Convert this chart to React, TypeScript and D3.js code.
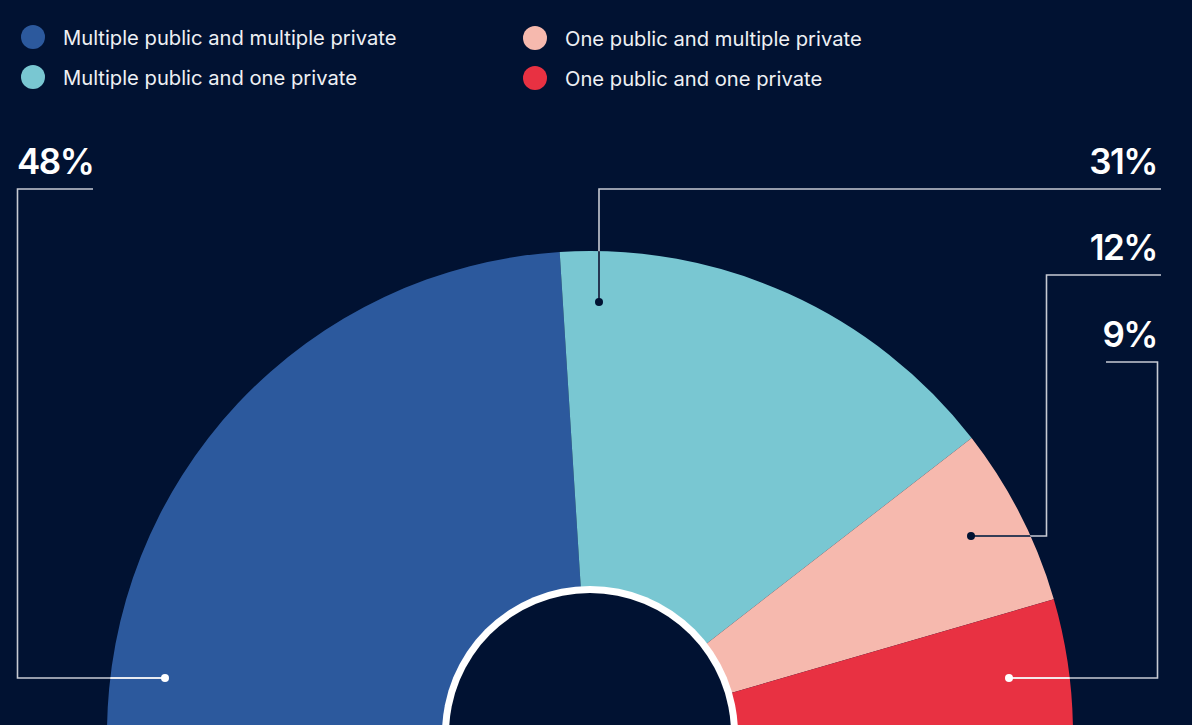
import React from "react";
import * as d3 from "d3";

const categories = [
  "Multiple public and multiple private",
  "Multiple public and one private",
  "One public and multiple private",
  "One public and one private",
];
const values = [48, 31, 12, 9];
const labels = ["48%", "31%", "12%", "9%"];
const colors = ["#2c599d", "#79c7d2", "#f6b9ae", "#e83142"];
const innerLineColors = ["#ffffff", "#011232", "#011232", "#ffffff"];

const W = 1192;
const H = 725;
const BG = "#011232";
const LINE = "#c7cad3";

// annotation layout: label position, elbow path and dot
const annotations = [
  { tx: 17, ty: 174, anchor: "start", path: [[93, 189], [17.5, 189], [17.5, 678], [165, 678]] },
  { tx: 1157, ty: 174, anchor: "end", path: [[1161, 189], [599, 189], [599, 302]] },
  { tx: 1157, ty: 260, anchor: "end", path: [[1161, 275], [1046.5, 275], [1046.5, 536], [971, 536]] },
  { tx: 1157, ty: 347, anchor: "end", path: [[1106, 362], [1157.5, 362], [1157.5, 678], [1009, 678]] },
];

const legendPos = [
  { x: 33, y: 37 },
  { x: 33, y: 77 },
  { x: 535, y: 38 },
  { x: 535, y: 78 },
];

export default function App() {
  const cx = 590;
  const cy = 734;
  const outerR = 483;
  const ringR = 148;
  const holeR = 141;

  const pie = d3
    .pie<number>()
    .sort(null)
    .startAngle(-Math.PI / 2)
    .endAngle(Math.PI / 2)(values);
  const arc = d3.arc<d3.PieArcDatum<number>>().innerRadius(ringR - 1).outerRadius(outerR);
  const line = d3.line();

  return (
    <svg
      width={W}
      height={H}
      style={{ position: "absolute", left: 0, top: 0, display: "block" }}
      fontFamily="Inter, 'Open Sans', sans-serif"
    >
      <defs>
        <clipPath id="pieClip">
          <circle cx={cx} cy={cy} r={outerR} />
        </clipPath>
      </defs>
      <rect width={W} height={H} fill={BG} />

      {legendPos.map((p, i) => (
        <g key={i}>
          <circle cx={p.x} cy={p.y} r={12} fill={colors[i]} />
          <text x={p.x + 30} y={p.y + 8} fill="#eef0f4" fontSize={20.2}>
            {categories[i]}
          </text>
        </g>
      ))}

      <g transform={`translate(${cx},${cy})`}>
        {pie.map((d, i) => (
          <path key={i} d={arc(d) || ""} fill={colors[i]} />
        ))}
        <circle r={ringR} fill="#ffffff" />
        <circle r={holeR} fill={BG} />
      </g>

      {annotations.map((a, i) => {
        const pts = a.path as [number, number][];
        const last = pts[pts.length - 1];
        return (
          <g key={i}>
            <path d={line(pts) || ""} fill="none" stroke={LINE} strokeWidth={1.6} />
            <path
              d={line(pts) || ""}
              fill="none"
              stroke={innerLineColors[i]}
              strokeWidth={1.6}
              clipPath="url(#pieClip)"
            />
            <circle cx={last[0]} cy={last[1]} r={4} fill={innerLineColors[i]} />
            <text
              x={a.tx}
              y={a.ty}
              fill="#ffffff"
              fontSize={35}
              fontWeight={600}
              letterSpacing={-1.5}
              textAnchor={a.anchor as any}
            >
              {labels[i]}
            </text>
          </g>
        );
      })}
    </svg>
  );
}
